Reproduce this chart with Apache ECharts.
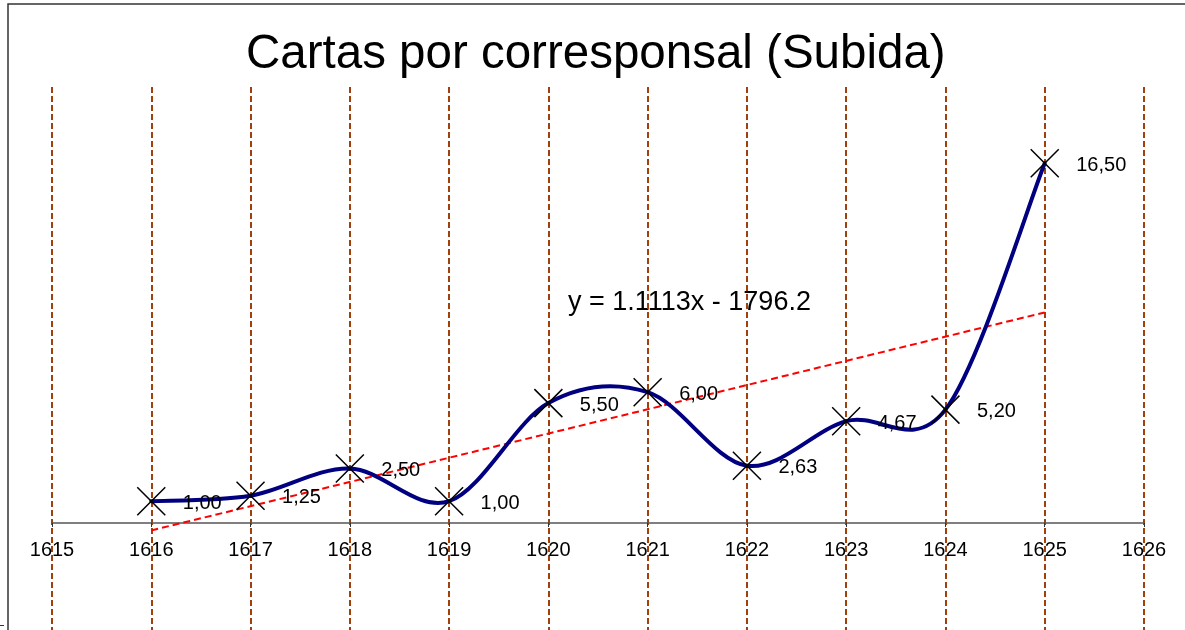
<!DOCTYPE html>
<html>
<head>
<meta charset="utf-8">
<style>
    html, body { margin: 0; padding: 0; background: #fff; }
    #chart { width: 1185px; height: 630px; }
</style>
<script src="https://cdn.jsdelivr.net/npm/echarts@6/dist/echarts.min.js"></script>
</head>
<body>
<div id="chart"></div>
<script>
// años y cartas por corresponsal
const years = [1616, 1617, 1618, 1619, 1620, 1621, 1622, 1623, 1624, 1625];
const cartas = [1.00, 1.25, 2.50, 1.00, 5.50, 6.00, 2.63, 4.67, 5.20, 16.50];
// línea de tendencia (extremos)
const trendYears = [1616, 1625];
const trendValues = [-0.34, 9.66];
const trendLabel = "y = 1.1113x - 1796.2";
const chartTitle = "Cartas por corresponsal (Subida)";

const font = "'Liberation Sans', Arial, sans-serif";

let chart_obj = echarts.init(document.getElementById('chart'));

// curva suavizada tipo Excel (Catmull-Rom): cada punto dibuja el tramo hacia el siguiente
function renderSmooth(params, api) {
    const i = params.dataIndex;
    const n = years.length;
    if (i >= n - 1) return null;
    const pt = k => api.coord([years[Math.max(0, Math.min(n - 1, k))], cartas[Math.max(0, Math.min(n - 1, k))]]);
    const p0 = pt(i - 1), p1 = pt(i), p2 = pt(i + 1), p3 = pt(i + 2);
    return {
        type: 'bezierCurve',
        shape: {
            x1: p1[0], y1: p1[1],
            x2: p2[0], y2: p2[1],
            cpx1: p1[0] + (p2[0] - p0[0]) / 6, cpy1: p1[1] + (p2[1] - p0[1]) / 6,
            cpx2: p2[0] - (p3[0] - p1[0]) / 6, cpy2: p2[1] - (p3[1] - p1[1]) / 6
        },
        style: { stroke: '#000080', lineWidth: 4, fill: null, lineCap: 'round' }
    };
}

let option = {
    animation: false,
    title: {
        text: chartTitle,
        left: 241,
        top: 26,
        textStyle: { fontFamily: font, fontSize: 47.5, fontWeight: 'normal', color: '#000' }
    },
    // la rejilla llega hasta el borde inferior
    grid: { left: 52, right: 41, top: 87, height: 545, outerBoundsMode: 'none', containLabel: false },
    xAxis: {
        type: 'value',
        min: 1615,
        max: 1626,
        interval: 1,
        // el eje se sube hasta y = 0
        offset: -109,
        axisLine: { onZero: false, lineStyle: { color: '#555', width: 1.5 } },
        axisTick: { show: true, length: 4, lineStyle: { color: '#333' } },
        axisLabel: {
            formatter: v => String(v),
            color: '#000',
            fontFamily: font,
            fontSize: 20,
            margin: 17
        },
        splitLine: {
            show: true,
            lineStyle: { color: '#a0400c', width: 2, type: [6, 3] }
        }
    },
    yAxis: {
        type: 'value',
        min: -5,
        max: 20,
        show: false,
        splitLine: { show: false }
    },
    graphic: [
        // marco del gráfico
        {
            type: 'rect',
            shape: { x: 8, y: 4, width: 1200, height: 700 },
            style: { fill: 'none', stroke: '#333', lineWidth: 1.5 },
            silent: true
        },
        {
            type: 'line',
            shape: { x1: 0, y1: 625.5, x2: 4, y2: 625.5 },
            style: { stroke: '#333', lineWidth: 1 },
            silent: true
        },
        {
            type: 'text',
            left: 568,
            top: 289,
            style: { text: trendLabel, font: '27px ' + font, fill: '#000' }
        }
    ],
    series: [
        {
            name: 'Tendencia',
            type: 'line',
            data: trendYears.map((y, i) => [y, trendValues[i]]),
            showSymbol: false,
            lineStyle: { color: '#ff0000', width: 2, type: [7, 4] },
            z: 3
        },
        {
            name: 'Cartas (curva)',
            type: 'custom',
            data: years.map((y, i) => [y, cartas[i]]),
            renderItem: renderSmooth,
            z: 4
        },
        {
            name: 'Cartas',
            type: 'scatter',
            data: years.map((y, i) => [y, cartas[i]]),
            symbol: 'path://M0,0L10,10M10,0L0,10',
            symbolSize: 28,
            itemStyle: { color: 'none', borderColor: '#000', borderWidth: 1.5, opacity: 1 },
            label: {
                show: true,
                position: 'right',
                distance: 15,
                offset: [0, 2],
                formatter: p => p.value[1].toFixed(2).replace('.', ','),
                color: '#000',
                fontFamily: font,
                fontSize: 20
            },
            z: 5
        }
    ]
};

chart_obj.setOption(option);
</script>
</body>
</html>
